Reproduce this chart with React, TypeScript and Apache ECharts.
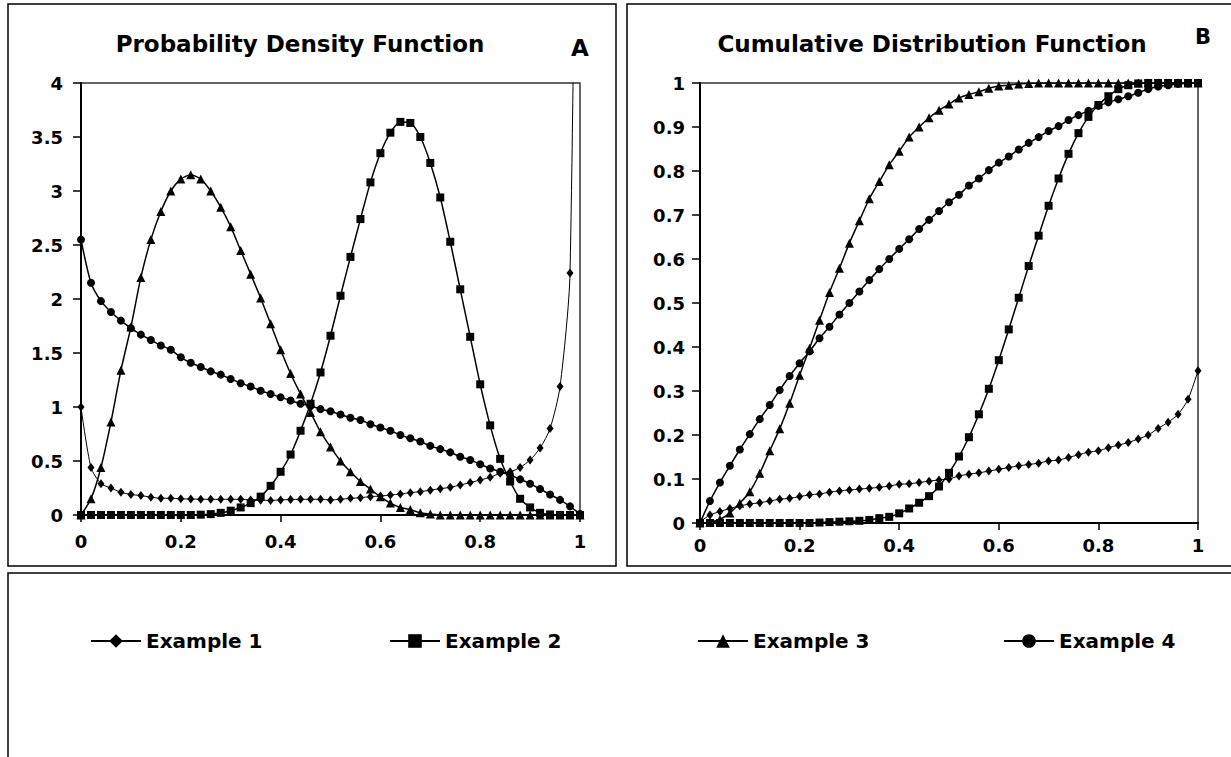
import React, { useEffect, useRef } from "react";
import * as echarts from "echarts";

const xs = [0, 0.02, 0.04, 0.06, 0.08, 0.1, 0.12, 0.14, 0.16, 0.18, 0.2, 0.22, 0.24, 0.26, 0.28, 0.3, 0.32, 0.34, 0.36, 0.38, 0.4, 0.42, 0.44, 0.46, 0.48, 0.5, 0.52, 0.54, 0.56, 0.58, 0.6, 0.62, 0.64, 0.66, 0.68, 0.7, 0.72, 0.74, 0.76, 0.78, 0.8, 0.82, 0.84, 0.86, 0.88, 0.9, 0.92, 0.94, 0.96, 0.98, 1];

const seriesNames = ["Example 1", "Example 2", "Example 3", "Example 4"];

// Probability density (panel A)
const pdf1 = [1.0, 0.44, 0.29, 0.25, 0.21, 0.19, 0.18, 0.165, 0.155, 0.155, 0.15, 0.148, 0.146, 0.145, 0.145, 0.145, 0.145, 0.14, 0.137, 0.135, 0.14, 0.143, 0.145, 0.145, 0.145, 0.14, 0.145, 0.154, 0.16, 0.17, 0.176, 0.185, 0.194, 0.207, 0.216, 0.23, 0.244, 0.256, 0.278, 0.3, 0.324, 0.349, 0.386, 0.4, 0.44, 0.51, 0.62, 0.8, 1.19, 2.24, 10];
const pdf2 = [0, 0, 0, 0, 0, 0, 0, 0, 0, 0, 0, 0, 0.003, 0.008, 0.02, 0.04, 0.07, 0.11, 0.17, 0.27, 0.4, 0.56, 0.78, 1.03, 1.32, 1.66, 2.03, 2.39, 2.74, 3.08, 3.35, 3.54, 3.64, 3.63, 3.5, 3.26, 2.94, 2.53, 2.09, 1.65, 1.21, 0.83, 0.52, 0.31, 0.15, 0.07, 0.02, 0.005, 0, 0, 0];
const pdf3 = [0, 0.15, 0.44, 0.86, 1.34, 1.74, 2.2, 2.55, 2.81, 3.0, 3.11, 3.15, 3.11, 3.0, 2.85, 2.67, 2.45, 2.23, 2.01, 1.77, 1.53, 1.31, 1.12, 0.95, 0.77, 0.63, 0.5, 0.4, 0.31, 0.24, 0.17, 0.11, 0.07, 0.05, 0.02, 0.01, 0, 0, 0, 0, 0, 0, 0, 0, 0, 0, 0, 0, 0, 0, 0];
const pdf4 = [2.55, 2.15, 1.98, 1.88, 1.8, 1.73, 1.67, 1.62, 1.57, 1.53, 1.46, 1.41, 1.37, 1.33, 1.3, 1.26, 1.22, 1.19, 1.15, 1.12, 1.09, 1.06, 1.03, 1.01, 0.98, 0.96, 0.93, 0.9, 0.88, 0.84, 0.81, 0.78, 0.74, 0.71, 0.68, 0.64, 0.61, 0.58, 0.54, 0.51, 0.47, 0.43, 0.4, 0.37, 0.33, 0.29, 0.24, 0.19, 0.14, 0.08, 0.01];

// Cumulative distribution (panel B)
const cdf1 = [0.003, 0.018, 0.026, 0.033, 0.039, 0.043, 0.046, 0.05, 0.054, 0.056, 0.06, 0.064, 0.066, 0.07, 0.073, 0.075, 0.077, 0.079, 0.081, 0.084, 0.088, 0.089, 0.092, 0.095, 0.098, 0.1, 0.107, 0.111, 0.114, 0.118, 0.122, 0.126, 0.13, 0.133, 0.136, 0.141, 0.143, 0.149, 0.155, 0.161, 0.164, 0.171, 0.177, 0.183, 0.191, 0.2, 0.215, 0.229, 0.247, 0.281, 0.346];
const cdf2 = [0, 0, 0, 0, 0, 0, 0, 0, 0, 0, 0, 0, 0.001, 0.002, 0.003, 0.004, 0.005, 0.007, 0.011, 0.014, 0.022, 0.033, 0.046, 0.061, 0.083, 0.114, 0.151, 0.195, 0.247, 0.305, 0.37, 0.44, 0.512, 0.584, 0.653, 0.721, 0.783, 0.839, 0.886, 0.923, 0.95, 0.97, 0.986, 0.995, 0.999, 1, 1, 1, 1, 1, 1];
const cdf3 = [0, 0.002, 0.008, 0.023, 0.045, 0.071, 0.113, 0.164, 0.214, 0.272, 0.336, 0.397, 0.461, 0.524, 0.579, 0.636, 0.687, 0.737, 0.776, 0.814, 0.845, 0.877, 0.9, 0.921, 0.938, 0.952, 0.966, 0.974, 0.98, 0.988, 0.993, 0.995, 0.998, 0.999, 1, 1, 1, 1, 1, 1, 1, 1, 1, 1, 1, 1, 1, 1, 1, 1, 1];
const cdf4 = [0, 0.05, 0.092, 0.13, 0.167, 0.202, 0.236, 0.268, 0.302, 0.334, 0.363, 0.39, 0.42, 0.446, 0.474, 0.5, 0.526, 0.552, 0.577, 0.6, 0.623, 0.645, 0.668, 0.689, 0.709, 0.729, 0.746, 0.767, 0.783, 0.802, 0.819, 0.833, 0.849, 0.864, 0.877, 0.891, 0.902, 0.916, 0.927, 0.937, 0.948, 0.956, 0.963, 0.97, 0.978, 0.986, 0.992, 0.995, 0.998, 0.999, 1.0];

const titleA = "Probability Density Function";
const titleB = "Cumulative Distribution Function";

const FONT = "DejaVu Sans";

const symbols = ["diamond", "rect", "triangle", "circle"];
const symbolSizes: any[] = [[7, 9], 8, 9, 8];
const lineWidths = [1, 1.5, 1.5, 1.5];

function pairs(vals: number[]) {
  return xs.map((x, i) => [x, vals[i]]);
}

export default function App() {
  const ref = useRef<HTMLDivElement>(null);

  useEffect(() => {
    if (!ref.current) return;
    const chart = echarts.init(ref.current, null, { renderer: "svg" });

    const labelStyle = {
      color: "#000",
      fontFamily: FONT,
      fontWeight: "bold" as const,
      fontSize: 18,
    };

    const makeX = (gridIndex: number, margin: number) => ({
      type: "value",
      gridIndex,
      min: 0,
      max: 1,
      interval: 0.2,
      splitLine: { show: false },
      axisLine: { show: true, onZero: false, lineStyle: { color: "#000", width: 2 } },
      axisTick: { show: true, inside: false, length: 7, lineStyle: { color: "#000", width: 1.5 } },
      axisLabel: { ...labelStyle, margin, formatter: (v: number) => String(+v.toFixed(1)) },
    });

    const makeY = (gridIndex: number, max: number, interval: number, margin: number) => ({
      type: "value",
      gridIndex,
      min: 0,
      max,
      interval,
      splitLine: { show: false },
      axisLine: { show: true, onZero: false, lineStyle: { color: "#000", width: 2 } },
      axisTick: { show: true, inside: false, length: 8, lineStyle: { color: "#000", width: 1.5 } },
      axisLabel: { ...labelStyle, margin, formatter: (v: number) => String(+v.toFixed(1)) },
    });

    const pdfs = [pdf1, pdf2, pdf3, pdf4];
    const cdfs = [cdf1, cdf2, cdf3, cdf4];

    const series: any[] = [];
    [pdfs, cdfs].forEach((group, gi) => {
      group.forEach((vals, si) => {
        series.push({
          type: "line",
          name: seriesNames[si],
          xAxisIndex: gi,
          yAxisIndex: gi,
          data: pairs(vals),
          smooth: 0.25,
          clip: true,
          symbol: symbols[si],
          symbolSize: symbolSizes[si],
          showAllSymbol: true,
          lineStyle: { color: "#000", width: lineWidths[si] },
          itemStyle: { color: "#000", borderWidth: 0 },
          emphasis: { disabled: true },
        });
      });
    });

    const legendLefts = [90, 389, 697, 1003];
    const legends = seriesNames.map((n, i) => ({
      data: [n],
      left: legendLefts[i],
      top: 631,
      orient: "horizontal",
      padding: 0,
      itemGap: 0,
      itemWidth: 50,
      itemHeight: 17,
      selectedMode: false,
      textStyle: { color: "#000", fontFamily: FONT, fontWeight: "bold", fontSize: 20 },
    }));

    const border = { fill: "none", stroke: "#000", lineWidth: 1.5 };

    chart.setOption({
      animation: false,
      backgroundColor: "#fff",
      grid: [
        { left: 81, top: 83, width: 499, height: 432, show: true, borderColor: "#333", borderWidth: 1.5, backgroundColor: "transparent" },
        { left: 700, top: 83, width: 498, height: 440, show: true, borderColor: "#333", borderWidth: 1.5, backgroundColor: "transparent" },
      ],
      xAxis: [makeX(0, 17), makeX(1, 13)],
      yAxis: [makeY(0, 4, 0.5, 18), makeY(1, 1, 0.1, 15)],
      legend: legends,
      series,
      graphic: [
        { type: "rect", shape: { x: 8, y: 4, width: 608, height: 562 }, style: border, silent: true },
        { type: "rect", shape: { x: 627, y: 4, width: 620, height: 562 }, style: border, silent: true },
        { type: "rect", shape: { x: 8, y: 573, width: 1240, height: 200 }, style: border, silent: true },
        {
          type: "text", x: 300, y: 44, silent: true,
          style: { text: titleA, fill: "#000", font: `bold 23px '${FONT}'`, textAlign: "center", textVerticalAlign: "middle" },
        },
        {
          type: "text", x: 580, y: 48, silent: true,
          style: { text: "A", fill: "#000", font: `bold 23px '${FONT}'`, textAlign: "center", textVerticalAlign: "middle" },
        },
        {
          type: "text", x: 932, y: 44, silent: true,
          style: { text: titleB, fill: "#000", font: `bold 23px '${FONT}'`, textAlign: "center", textVerticalAlign: "middle" },
        },
        {
          type: "text", x: 1203, y: 37, silent: true,
          style: { text: "B", fill: "#000", font: `bold 21px '${FONT}'`, textAlign: "center", textVerticalAlign: "middle" },
        },
      ],
    });

    return () => chart.dispose();
  }, []);

  return (
    <div
      ref={ref}
      style={{ position: "fixed", left: 0, top: 0, width: 1231, height: 757, background: "#fff" }}
    />
  );
}
